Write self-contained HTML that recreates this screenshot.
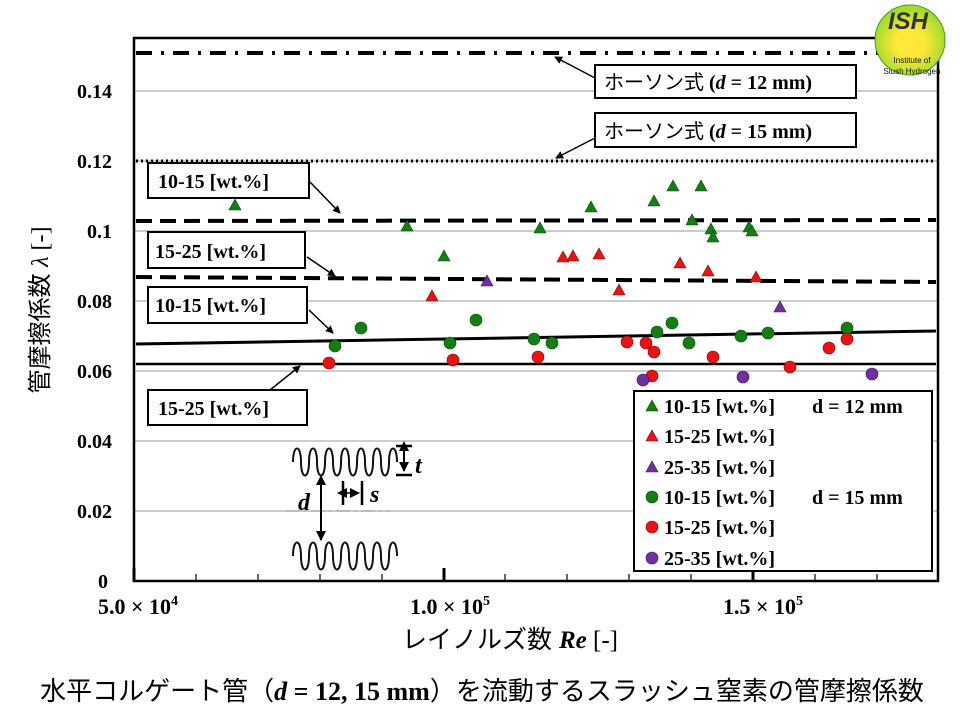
<!DOCTYPE html>
<html><head><meta charset="utf-8"><style>
body{margin:0;background:#fff;}
svg{display:block;}
.t{font-family:"Liberation Serif","Noto Serif CJK SC",serif;font-weight:bold;}
.j{font-family:"Liberation Sans","Noto Sans CJK JP",sans-serif;}
</style></head><body>
<svg width="960" height="720" viewBox="0 0 960 720" xmlns="http://www.w3.org/2000/svg">
<defs>
<radialGradient id="lg" cx="50%" cy="55%" r="50%"><stop offset="0.4" stop-color="#ffe83a"/><stop offset="1" stop-color="#a6dc2a"/></radialGradient>
<marker id="ah" markerWidth="8" markerHeight="8" refX="7" refY="4" orient="auto" markerUnits="userSpaceOnUse"><path d="M0,0 L8,4 L0,8 z" fill="#000"/></marker>
<marker id="ah2" markerWidth="10" markerHeight="10" refX="9" refY="5" orient="auto" markerUnits="userSpaceOnUse"><path d="M0,0 L10,5 L0,10 z" fill="#000"/></marker>
<marker id="ah3" markerWidth="10" markerHeight="10" refX="1" refY="5" orient="auto-start-reverse" markerUnits="userSpaceOnUse"><path d="M0,0 L10,5 L0,10 z" fill="#000"/></marker>
<g id="tg"><path d="M0,-6 L6,5 L-6,5 z" fill="#118011" stroke="#0a4a0a" stroke-width="0.6"/></g>
<g id="tr"><path d="M0,-6 L6,5 L-6,5 z" fill="#ee1111" stroke="#7a0a0a" stroke-width="0.6"/></g>
<g id="tp"><path d="M0,-6 L6,5 L-6,5 z" fill="#7030a0" stroke="#3a1050" stroke-width="0.6"/></g>
<g id="cg"><circle r="6" fill="#118011" stroke="#0a4a0a" stroke-width="0.6"/></g>
<g id="cr"><circle r="6" fill="#ee1111" stroke="#7a0a0a" stroke-width="0.6"/></g>
<g id="cp"><circle r="6" fill="#7030a0" stroke="#3a1050" stroke-width="0.6"/></g>
</defs>
<g stroke="#999" stroke-width="1">
<line x1="134" y1="91" x2="938" y2="91"/><line x1="134" y1="161" x2="938" y2="161"/>
<line x1="134" y1="231" x2="938" y2="231"/><line x1="134" y1="301" x2="938" y2="301"/>
<line x1="134" y1="371" x2="938" y2="371"/><line x1="134" y1="441" x2="938" y2="441"/>
<line x1="134" y1="511" x2="938" y2="511"/>
</g>
<rect x="134" y="38" width="804" height="543" fill="none" stroke="#000" stroke-width="2.5"/>
<g stroke="#000" stroke-width="1.2">
<line x1="196" y1="581" x2="196" y2="574"/><line x1="258" y1="581" x2="258" y2="574"/>
<line x1="320" y1="581" x2="320" y2="574"/><line x1="382" y1="581" x2="382" y2="574"/>
<line x1="505" y1="581" x2="505" y2="574"/><line x1="567" y1="581" x2="567" y2="574"/>
<line x1="629" y1="581" x2="629" y2="574"/><line x1="691" y1="581" x2="691" y2="574"/>
<line x1="815" y1="581" x2="815" y2="574"/><line x1="877" y1="581" x2="877" y2="574"/>
</g>
<g stroke="#000" stroke-width="3"><line x1="444" y1="581" x2="444" y2="568"/><line x1="753" y1="581" x2="753" y2="568"/><line x1="134" y1="581" x2="134" y2="568"/></g>
<g class="t" font-size="20" text-anchor="end">
<text x="112" y="98">0.14</text><text x="112" y="168">0.12</text><text x="112" y="238">0.1</text>
<text x="112" y="308">0.08</text><text x="112" y="378">0.06</text><text x="112" y="448">0.04</text>
<text x="112" y="518">0.02</text><text x="108" y="588">0</text>
</g>
<g class="t" font-size="22" text-anchor="middle">
<text x="138" y="614">5.0 × 10<tspan font-size="14" dy="-9">4</tspan></text>
<text x="450" y="614">1.0 × 10<tspan font-size="14" dy="-9">5</tspan></text>
<text x="763" y="614">1.5 × 10<tspan font-size="14" dy="-9">5</tspan></text>
</g>
<text x="510" y="648" text-anchor="middle" font-size="25" class="j">レイノルズ数 <tspan font-family="Liberation Serif" font-weight="bold" font-style="italic">Re</tspan><tspan font-family="Liberation Serif"> [-]</tspan></text>
<text transform="translate(48,310) rotate(-90)" text-anchor="middle" font-size="24" class="j">管摩擦係数 <tspan font-family="Liberation Serif" font-style="italic">λ</tspan><tspan font-family="Liberation Serif"> [-]</tspan></text>
<text x="482" y="700" text-anchor="middle" font-size="26" class="j">水平コルゲート管（<tspan font-family="Liberation Serif" font-weight="bold" font-style="italic">d</tspan><tspan font-family="Liberation Serif" font-weight="bold"> = 12, 15 mm</tspan>）を流動するスラッシュ窒素の管摩擦係数</text>
<line x1="136" y1="53" x2="936" y2="53" stroke="#000" stroke-width="4" stroke-dasharray="16,9,3,9"/>
<line x1="136" y1="161" x2="936" y2="161" stroke="#000" stroke-width="3" stroke-dasharray="2,3"/>
<line x1="136" y1="221" x2="936" y2="220" stroke="#000" stroke-width="4" stroke-dasharray="16,8"/>
<line x1="136" y1="277" x2="936" y2="282" stroke="#000" stroke-width="4" stroke-dasharray="16,8"/>
<line x1="136" y1="344" x2="936" y2="331" stroke="#000" stroke-width="3"/>
<line x1="136" y1="364" x2="936" y2="364" stroke="#000" stroke-width="2.5"/>
<g fill="#fff" stroke="#000" stroke-width="2">
<rect x="595" y="65" width="261" height="33"/><rect x="595" y="113" width="261" height="34"/>
<rect x="148" y="163" width="161" height="35"/><rect x="148" y="232" width="157" height="36"/>
<rect x="148" y="287" width="159" height="36"/><rect x="148" y="390" width="159" height="35"/>
</g>
<g stroke="#000" stroke-width="1.5" marker-end="url(#ah)">
<line x1="595" y1="78" x2="555" y2="57"/><line x1="595" y1="138" x2="556" y2="158"/>
<line x1="310" y1="182" x2="340" y2="213"/><line x1="307" y1="257" x2="335" y2="276"/>
<line x1="309" y1="310" x2="333" y2="333"/><line x1="270" y1="390" x2="300" y2="366"/>
</g>
<g class="t" font-size="20">
<text x="604" y="89"><tspan class="j" font-weight="normal">ホーソン式</tspan> (<tspan font-style="italic">d</tspan> = 12 mm)</text>
<text x="604" y="138"><tspan class="j" font-weight="normal">ホーソン式</tspan> (<tspan font-style="italic">d</tspan> = 15 mm)</text>
<text x="158" y="188">10-15 [wt.%]</text><text x="155" y="258">15-25 [wt.%]</text>
<text x="155" y="312">10-15 [wt.%]</text><text x="158" y="415">15-25 [wt.%]</text>
</g>
<use href="#tg" x="235" y="205"/><use href="#tg" x="407" y="226"/><use href="#tg" x="444" y="256"/><use href="#tg" x="540" y="228"/><use href="#tg" x="591" y="207"/><use href="#tg" x="654" y="201"/><use href="#tg" x="673" y="186"/><use href="#tg" x="692" y="220"/><use href="#tg" x="701" y="186"/><use href="#tg" x="711" y="229"/><use href="#tg" x="713" y="237"/><use href="#tg" x="749" y="227"/><use href="#tg" x="752" y="231"/>
<use href="#tr" x="432" y="296"/><use href="#tr" x="563" y="257"/><use href="#tr" x="573" y="256"/><use href="#tr" x="599" y="254"/><use href="#tr" x="619" y="290"/><use href="#tr" x="680" y="263"/><use href="#tr" x="708" y="271"/><use href="#tr" x="756" y="277"/>
<use href="#tp" x="487" y="281"/><use href="#tp" x="780" y="307"/>
<use href="#cg" x="335" y="346"/><use href="#cg" x="361" y="328"/><use href="#cg" x="450" y="343"/><use href="#cg" x="476" y="320"/><use href="#cg" x="534" y="339"/><use href="#cg" x="552" y="343"/><use href="#cg" x="657" y="332"/><use href="#cg" x="672" y="323"/><use href="#cg" x="689" y="343"/><use href="#cg" x="741" y="336"/><use href="#cg" x="768" y="333"/><use href="#cg" x="847" y="328"/>
<use href="#cr" x="329" y="363"/><use href="#cr" x="453" y="360"/><use href="#cr" x="538" y="357"/><use href="#cr" x="627" y="342"/><use href="#cr" x="646" y="343"/><use href="#cr" x="652" y="376"/><use href="#cr" x="654" y="352"/><use href="#cr" x="713" y="357"/><use href="#cr" x="790" y="367"/><use href="#cr" x="829" y="348"/><use href="#cr" x="847" y="339"/>
<use href="#cp" x="643" y="380"/><use href="#cp" x="743" y="377"/><use href="#cp" x="872" y="374"/>
<rect x="634" y="391" width="298" height="180" fill="#fff" stroke="#000" stroke-width="2"/>
<use href="#tg" x="652" y="406"/><use href="#tr" x="652" y="436"/><use href="#tp" x="652" y="467"/>
<use href="#cg" x="652" y="497"/><use href="#cr" x="652" y="527"/><use href="#cp" x="652" y="558"/>
<g class="t" font-size="20">
<text x="664" y="413">10-15 [wt.%]</text><text x="812" y="413">d = 12 mm</text>
<text x="664" y="443">15-25 [wt.%]</text><text x="664" y="474">25-35 [wt.%]</text>
<text x="664" y="504">10-15 [wt.%]</text><text x="812" y="504">d = 15 mm</text>
<text x="664" y="534">15-25 [wt.%]</text><text x="664" y="565">25-35 [wt.%]</text>
</g>
<g fill="none" stroke="#111" stroke-width="2">
<path d="M293,462 c0,-18 8,-18 8,0 c0,18 8,18 8,0 c0,-18 8,-18 8,0 c0,18 8,18 8,0 c0,-18 8,-18 8,0 c0,18 8,18 8,0 c0,-18 8,-18 8,0 c0,18 8,18 8,0 c0,-18 8,-18 8,0 c0,18 8,18 8,0 c0,-18 8,-18 8,0 c0,18 8,18 8,0 c0,-18 8,-18 8,0"/>
<path d="M293,556 c0,-18 8,-18 8,0 c0,18 8,18 8,0 c0,-18 8,-18 8,0 c0,18 8,18 8,0 c0,-18 8,-18 8,0 c0,18 8,18 8,0 c0,-18 8,-18 8,0 c0,18 8,18 8,0 c0,-18 8,-18 8,0 c0,18 8,18 8,0 c0,-18 8,-18 8,0 c0,18 8,18 8,0 c0,-18 8,-18 8,0"/>
</g>
<line x1="286" y1="511" x2="390" y2="511" stroke="#bbb" stroke-width="2" stroke-dasharray="14,4,3,4"/>
<g stroke="#000" stroke-width="2.5">
<line x1="396" y1="446" x2="412" y2="446"/><line x1="396" y1="475" x2="412" y2="475"/>
<line x1="343" y1="481" x2="343" y2="505"/><line x1="362" y1="481" x2="362" y2="505"/>
</g>
<line x1="404" y1="450" x2="404" y2="471" stroke="#000" stroke-width="2" marker-start="url(#ah3)" marker-end="url(#ah2)"/>
<line x1="346" y1="493" x2="359" y2="493" stroke="#000" stroke-width="1.5" marker-start="url(#ah3)" marker-end="url(#ah2)"/>
<line x1="321" y1="484" x2="321" y2="540" stroke="#000" stroke-width="2" marker-start="url(#ah3)" marker-end="url(#ah2)"/>
<g class="t" font-size="24" font-style="italic"><text x="415" y="473">t</text><text x="370" y="502">s</text><text x="298" y="510">d</text></g>
<circle cx="910" cy="40" r="35" fill="url(#lg)" stroke="#3a9a2a" stroke-width="1"/>
<text x="908" y="29" text-anchor="middle" font-family="Liberation Sans" font-weight="bold" font-style="italic" font-size="24" fill="#333">ISH</text>
<text x="912" y="63" text-anchor="middle" font-family="Liberation Sans" font-size="8" fill="#111">Institute of</text>
<text x="912" y="74" text-anchor="middle" font-family="Liberation Sans" font-size="8" fill="#111">Slush Hydrogen</text>
</svg>
</body></html>
